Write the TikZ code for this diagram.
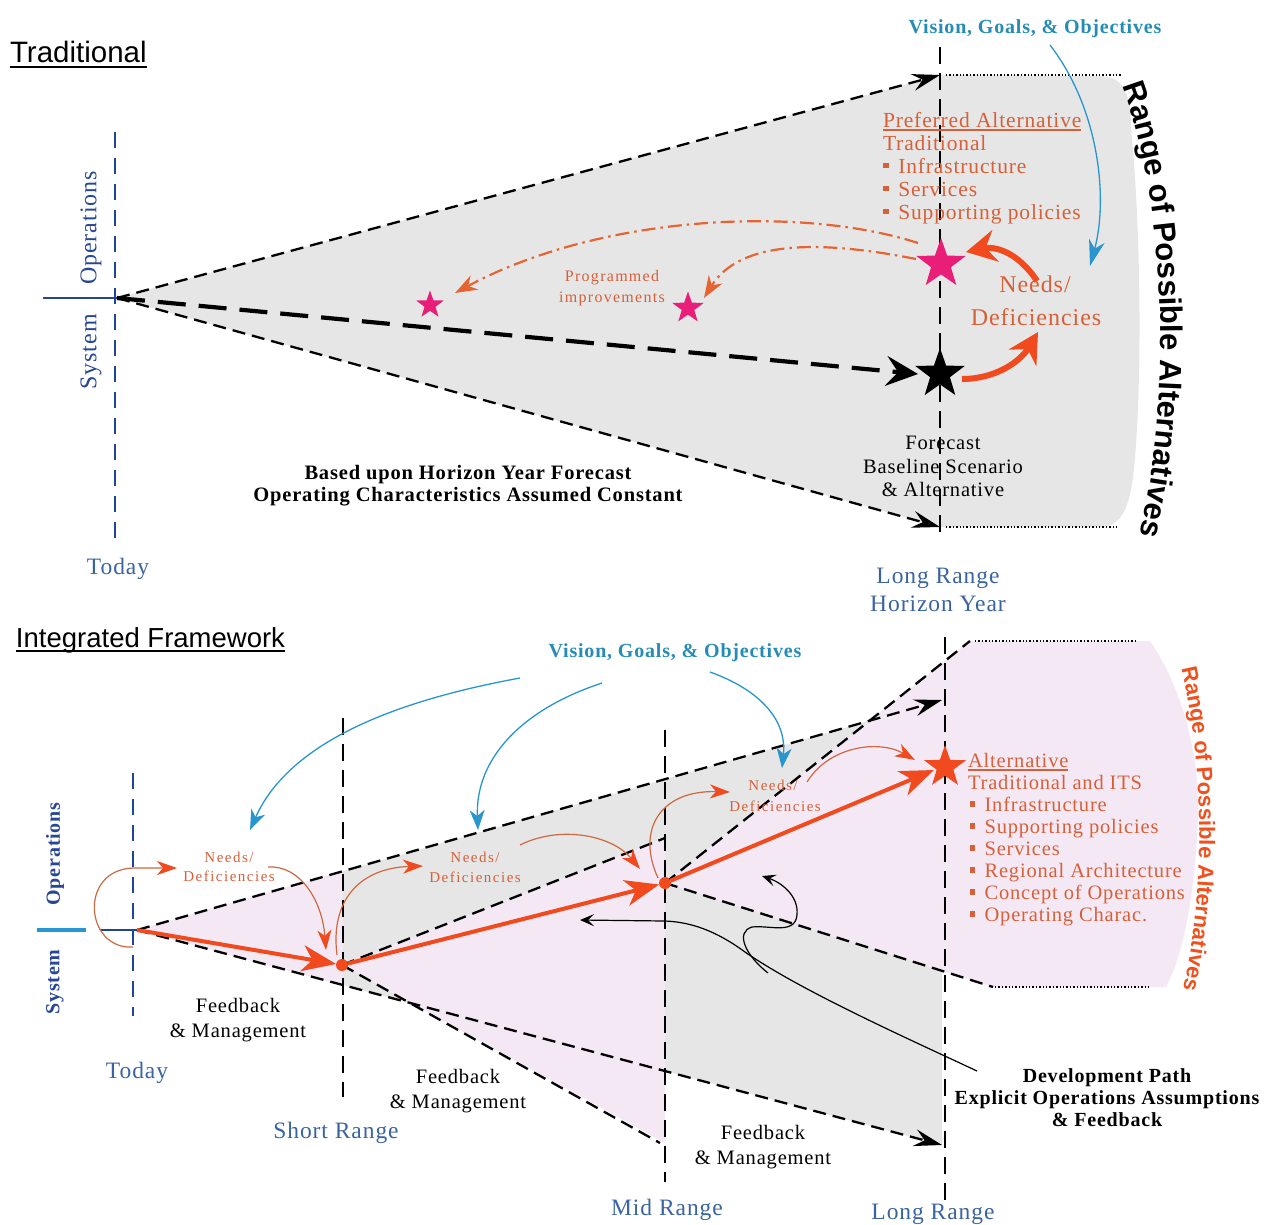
\documentclass[tikz,border=0pt]{standalone}
\usepackage{fontspec}
\setmainfont[LetterSpace=4]{Liberation Serif}
\newfontfamily\arialfont{Liberation Sans}
\usetikzlibrary{arrows.meta,shapes.geometric,decorations.text}

\definecolor{grayfill}{RGB}{230,230,230}
\definecolor{pinkfill}{RGB}{245,232,245}
\definecolor{txtorange}{RGB}{214,96,56}
\definecolor{orline}{RGB}{205,105,65}
\definecolor{ddorange}{RGB}{230,100,50}
\definecolor{arrowred}{RGB}{240,74,30}
\definecolor{starpink}{RGB}{232,30,120}
\definecolor{visionteal}{RGB}{38,140,180}
\definecolor{arrowblue}{RGB}{40,150,205}
\definecolor{rangeblue}{RGB}{58,100,160}
\definecolor{sysblue}{RGB}{40,70,150}
\definecolor{todayblue}{RGB}{30,70,150}
\definecolor{barteal}{RGB}{40,150,210}
\definecolor{rangered}{RGB}{240,80,30}

\newcommand\fs[2]{\fontsize{#1}{#2}\selectfont}
\newcommand\sqb{\rule[0.22em]{0.26em}{0.26em}\hspace{0.45em}}
\newcommand\rangefontT{\arialfont\bfseries\fontsize{31}{31}\selectfont}
\newcommand\rangefontB{\arialfont\bfseries\fontsize{22}{22}\selectfont}

\begin{document}
\begin{tikzpicture}[x=1pt,y=-1pt,
  every node/.style={inner sep=0pt,outer sep=0pt},
  lbl/.style={anchor=base},
  lblw/.style={anchor=base west},
  coneline/.style={draw=black,line width=2.3pt,dash pattern=on 13pt off 7pt},
  heavyline/.style={draw=black,line width=4.2pt,dash pattern=on 28pt off 13pt},
  rangeline/.style={draw=black,line width=2.6pt,dash pattern=on 17pt off 9pt},
  todayline/.style={draw=todayblue,line width=2.8pt,dash pattern=on 16pt off 10pt},
  dotline/.style={draw=black,line width=1.3pt,dash pattern=on 1.4pt off 2pt},
  blacktip/.style={-{Stealth[length=28pt,width=17pt,inset=10pt]}},
  bigtip/.style={-{Stealth[length=32pt,width=30pt,inset=12pt]}},
  redpath/.style={draw=arrowred,line width=4pt,-{Stealth[length=34pt,width=26pt,inset=10pt]}},
  redcurve/.style={draw=arrowred,line width=6pt,-{Stealth[length=30pt,width=32pt,inset=10pt]}},
  dashdotarrow/.style={draw=ddorange,line width=2.2pt,dash pattern=on 14pt off 5pt on 2.5pt off 5pt,-{Stealth[length=22pt,width=16pt,inset=7pt]}},
  thinor/.style={draw=orline,line width=1.2pt,-{Stealth[length=20pt,width=14pt,inset=6pt,color=arrowred]}},
  bluearr/.style={draw=arrowblue,line width=1.3pt,-{Stealth[length=20pt,width=15pt,inset=6pt]}},
  pointer/.style={draw=black,line width=1.2pt,-{Stealth[length=14pt,width=12pt,inset=6pt]}},
  starshape/.style={star,star points=5,star point ratio=2.5,draw=none},
  orangetxt/.style={text=txtorange},
  rangelbl/.style={anchor=base,text=rangeblue,font=\fs{23.5}{23.5}},
  needsT/.style={anchor=base,text=txtorange,font=\fs{24}{24}},
  needsB/.style={anchor=base,text=txtorange,font=\fs{15}{15}\addfontfeature{LetterSpace=10}},
  fbtxt/.style={anchor=base,font=\fs{20.5}{20.5}},
]
\useasboundingbox (0,0) rectangle (1265,1224);

% ================= Traditional planning =================
\coordinate (tApex) at (117,298);
\coordinate (tTop) at (940,75);
\coordinate (tBot) at (940,527);
\coordinate (tMid) at (918,374);
\coordinate (tTodayA) at (115,132);
\coordinate (tTodayB) at (115,540);
\coordinate (tLongA) at (940,47);
\coordinate (tLongB) at (940,538);
\coordinate (tSysL) at (43,298);

% shaded range of alternatives
\fill[grayfill] (tApex) -- (tTop) -- (1100,76) .. controls (1124,76) and (1131,95) .. (1131,128)
  .. controls (1142,240) and (1142,400) .. (1133,478) .. controls (1128,512) and (1120,527) .. (1098,527)
  -- (tBot) -- cycle;

% time axis
\draw[todayline] (tTodayA) -- (tTodayB);
\draw[rangeline] (tLongA) -- (tLongB);
\draw[sysblue,line width=2.3pt] (tSysL) -- (tApex);

% forecast cone
\draw[coneline,blacktip] (tApex) -- (tTop);
\draw[coneline,blacktip] (tApex) -- (tBot);
\draw[heavyline,bigtip] (tApex) -- (tMid);
\draw[dotline] (946,75) -- (1122,75);
\draw[dotline] (946,527) -- (1118,527);

% stars
\node[starshape,fill=black,minimum size=52pt] (starBk) at (940,374) {};
\node[starshape,fill=starpink,minimum size=52pt] (starPk) at (941,264) {};
\node[starshape,fill=starpink,minimum size=29pt] (starS1) at (430,305) {};
\node[starshape,fill=starpink,minimum size=33pt] (starS2) at (688,308) {};

% programmed improvements
\coordinate (ddA0) at (918,243);
\coordinate (ddA1) at (455,293);
\coordinate (ddB0) at (916,259);
\coordinate (ddB1) at (704,298);
\draw[dashdotarrow] (ddA0) .. controls (800,205) and (600,215) .. (ddA1);
\draw[dashdotarrow] (ddB0) .. controls (820,240) and (740,240) .. (ddB1);

% needs and deficiencies
\draw[redcurve] (1037,281) .. controls (1018,252) and (995,246) .. (966,252);
\draw[redcurve] (962,379) .. controls (995,379) and (1020,362) .. (1038,332);

% vision arrow
\coordinate (visTa) at (1050,45);
\coordinate (visTb) at (1090,266);
\draw[bluearr,-{Stealth[length=26pt,width=16pt,inset=8pt]}] (visTa) .. controls (1100,110) and (1108,200) .. (visTb);

% labels
\node[lblw,font=\arialfont\fs{29.5}{29.5}] (tradT) at (10,62) {Traditional};
\draw[line width=2pt] ([yshift=-5pt]tradT.base west) -- ([yshift=-5pt]tradT.base east);

\node[lbl,font=\bfseries\fs{20}{20},text=visionteal] (visT) at (1035,33) {Vision, Goals, \& Objectives};

\node[lblw,orangetxt,font=\fs{21.5}{21.5}] (pa0) at (883,127) {Preferred Alternative};
\draw[txtorange,line width=1.2pt] ([yshift=-3pt]pa0.base west) -- ([yshift=-3pt]pa0.base east);
\node[lblw,orangetxt,font=\fs{21.5}{21.5}] (pa1) at (883,150) {Traditional};
\node[lblw,orangetxt,font=\fs{21.5}{21.5}] (pa2) at (883,173) {\sqb Infrastructure};
\node[lblw,orangetxt,font=\fs{21.5}{21.5}] (pa3) at (883,196) {\sqb Services};
\node[lblw,orangetxt,font=\fs{21.5}{21.5}] (pa4) at (883,219) {\sqb Supporting policies};

\node[needsT] (ndT1) at (1035,292) {Needs/};
\node[needsT] (ndT2) at (1036,325) {Deficiencies};

\node[lbl,orangetxt,font=\fs{16}{16}\addfontfeature{LetterSpace=8}] (pg1) at (612,281) {Programmed};
\node[lbl,orangetxt,font=\fs{16}{16}\addfontfeature{LetterSpace=8}] (pg2) at (612,302) {improvements};

\node[lbl,font=\fs{20.5}{20.5}] (fc1) at (943,449) {Forecast};
\node[lbl,font=\fs{20.5}{20.5}] (fc2) at (943,473) {Baseline Scenario};
\node[lbl,font=\fs{20.5}{20.5}] (fc3) at (943,496) {\& Alternative};

\node[lbl,font=\bfseries\fs{20.5}{20.5}] (bu1) at (468,479) {Based upon Horizon Year Forecast};
\node[lbl,font=\bfseries\fs{20.5}{20.5}] (bu2) at (468,501) {Operating Characteristics Assumed Constant};

\node[rangelbl] (todayT) at (118,574) {Today};
\node[rangelbl] (lrT1) at (938,583) {Long Range};
\node[rangelbl] (lrT2) at (938,611) {Horizon Year};

\node[rotate=90,text=sysblue,font=\fs{24}{24}] (opsT) at (91,228) {Operations};
\node[rotate=90,text=sysblue,font=\fs{24}{24}] (sysT) at (91,352) {System};

\path[decorate,decoration={text along path,text align=center,
  text={|\rangefontT|Range of Possible Alternatives}}]
  (1114,66) .. controls (1170,190) and (1174,420) .. (1134,556);

% ================= Integrated framework =================
\coordinate (bApex) at (137,930);
\coordinate (bShort) at (342,965);
\coordinate (bMidP) at (665,883);
\coordinate (bUp1) at (942,700);
\coordinate (bLo1) at (942,1145);
\coordinate (bUp2) at (665,838);
\coordinate (bLo2) at (660,1143);
\coordinate (bUp3) at (970,641);
\coordinate (bLo3) at (993,987);

% cones
\fill[grayfill] (bApex) -- (bUp1) -- (bLo1) -- cycle;
\fill[pinkfill] (bApex) -- (343,871) -- (343,985) -- cycle;
\fill[pinkfill] (bShort) -- (bUp2) -- (665,1143) -- cycle;
\fill[pinkfill] (bMidP) -- (bUp3) -- (1150,641) .. controls (1184,690) and (1200,760) .. (1198,815)
  .. controls (1196,880) and (1186,950) .. (1166,987) -- (bLo3) -- cycle;

% time axis
\draw[todayline] (133,773) -- (133,1016);
\draw[rangeline] (343,718) -- (343,1097);
\draw[rangeline] (665,730) -- (665,1182);
\draw[rangeline] (945,637) -- (945,1200);
\draw[barteal,line width=3.5pt] (37,930) -- (86,930);
\draw[todayblue,line width=2.5pt] (100,930) -- (bApex);

% cone boundaries
\draw[coneline,blacktip] (bApex) -- (bUp1);
\draw[coneline,blacktip] (bApex) -- (bLo1);
\draw[coneline] (bShort) -- (bUp2);
\draw[coneline] (bShort) -- (bLo2);
\draw[coneline] (bMidP) -- (bUp3);
\draw[coneline] (bMidP) -- (bLo3);
\draw[dotline] (975,641) -- (1135,641);
\draw[dotline] (995,987) -- (1150,987);

% development path pointers
\draw[pointer] (977,1071) .. controls (900,1035) and (800,990) .. (745,952)
  .. controls (715,930) and (690,922) .. (665,921) -- (580,920);
\draw[pointer] (768,973) .. controls (745,955) and (735,932) .. (752,927)
  .. controls (770,925) and (795,935) .. (797,915) .. controls (799,895) and (780,882) .. (762,876);

% milestones
\node[circle,fill=arrowred,minimum size=12pt] (dotS) at (bShort) {};
\node[circle,fill=arrowred,minimum size=12pt] (dotM) at (bMidP) {};
\node[starshape,fill=arrowred,minimum size=44pt] (starB) at (945,767) {};

\draw[redpath] (bApex) -- (dotS);
\draw[redpath] (dotS) -- (dotM);
\draw[redpath] (dotM) -- (934,770);

% needs / deficiencies loops
\draw[thinor] (133,947) .. controls (85,950) and (78,870) .. (133,868) -- (177,868);
\draw[thinor] (268,867) .. controls (300,865) and (322,900) .. (326,950);
\draw[thinor] (337,955) .. controls (330,900) and (360,868) .. (423,866);
\draw[thinor] (520,845) .. controls (560,825) and (612,835) .. (640,869);
\draw[thinor] (658,878) .. controls (636,830) and (660,790) .. (730,792);
\draw[thinor] (807,782) .. controls (830,745) and (880,740) .. (915,760);

% vision arrows
\draw[bluearr] (520,678) .. controls (400,700) and (290,740) .. (250,830);
\draw[bluearr] (602,683) .. controls (520,710) and (475,760) .. (478,830);
\draw[bluearr] (710,672) .. controls (760,690) and (787,720) .. (782,768);

% labels
\node[lblw,font=\arialfont\fs{27.5}{27.5}] (intF) at (16,647) {Integrated Framework};
\draw[line width=1.4pt] ([yshift=-4pt]intF.base west) -- ([yshift=-4pt]intF.base east);

\node[lbl,font=\bfseries\fs{20}{20},text=visionteal] (visB) at (675,657) {Vision, Goals, \& Objectives};

\node[needsB] (nd1a) at (229,862) {Needs/};
\node[needsB] (nd1b) at (229,881) {Deficiencies};
\node[needsB] (nd2a) at (475,862) {Needs/};
\node[needsB] (nd2b) at (475,882) {Deficiencies};
\node[needsB] (nd3a) at (773,790) {Needs/};
\node[needsB] (nd3b) at (775,811) {Deficiencies};

\node[fbtxt] (fb1a) at (238,1012) {Feedback};
\node[fbtxt] (fb1b) at (238,1037) {\& Management};
\node[fbtxt] (fb2a) at (458,1083) {Feedback};
\node[fbtxt] (fb2b) at (458,1108) {\& Management};
\node[fbtxt] (fb3a) at (763,1139) {Feedback};
\node[fbtxt] (fb3b) at (763,1164) {\& Management};

\node[rangelbl] (todayB) at (137,1078) {Today};
\node[rangelbl] (shortB) at (336,1138) {Short Range};
\node[rangelbl] (midB) at (667,1215) {Mid Range};
\node[rangelbl] (longB) at (933,1219) {Long Range};

\node[lblw,orangetxt,font=\fs{20.5}{20.5}] (al0) at (968,767) {Alternative};
\draw[txtorange,line width=1.2pt] ([yshift=-3pt]al0.base west) -- ([yshift=-3pt]al0.base east);
\node[lblw,orangetxt,font=\fs{20.5}{20.5}] (al1) at (968,789) {Traditional and ITS};
\node[lblw,orangetxt,font=\fs{20.5}{20.5}] (al2) at (970,811) {\sqb Infrastructure};
\node[lblw,orangetxt,font=\fs{20.5}{20.5}] (al3) at (970,833) {\sqb Supporting policies};
\node[lblw,orangetxt,font=\fs{20.5}{20.5}] (al4) at (970,855) {\sqb Services};
\node[lblw,orangetxt,font=\fs{20.5}{20.5}] (al5) at (970,877) {\sqb Regional Architecture};
\node[lblw,orangetxt,font=\fs{20.5}{20.5}] (al6) at (970,899) {\sqb Concept of Operations};
\node[lblw,orangetxt,font=\fs{20.5}{20.5}] (al7) at (970,921) {\sqb Operating Charac.};

\node[lbl,font=\bfseries\fs{20}{20}] (dp1) at (1107,1082) {Development Path};
\node[lbl,font=\bfseries\fs{20}{20}] (dp2) at (1107,1104) {Explicit Operations Assumptions};
\node[lbl,font=\bfseries\fs{20}{20}] (dp3) at (1107,1126) {\& Feedback};

\node[rotate=90,text=sysblue,font=\bfseries\fs{20}{20}] (opsB) at (55,854) {Operations};
\node[rotate=90,text=sysblue,font=\bfseries\fs{20}{20}] (sysB) at (55,982) {System};

\path[decorate,decoration={text along path,text align=center,text color=rangered,
  text={|\rangefontB|Range of Possible Alternatives}}]
  (1178,656) .. controls (1206,760) and (1206,900) .. (1180,1002);

\end{tikzpicture}
\end{document}
